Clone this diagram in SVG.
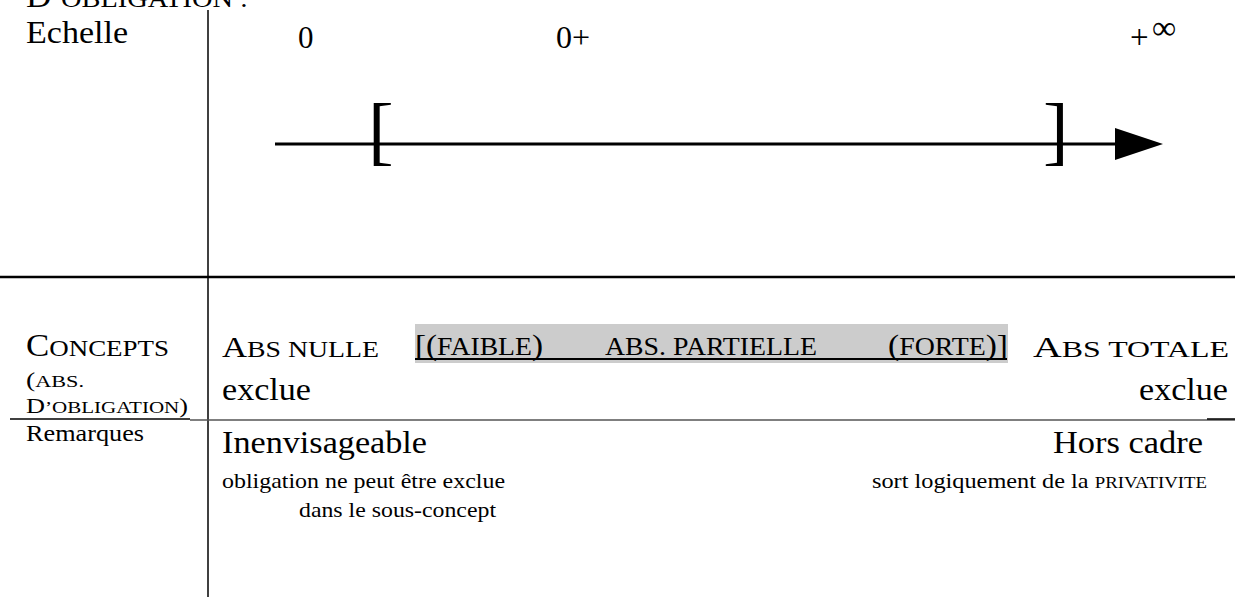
<svg xmlns="http://www.w3.org/2000/svg" width="1235" height="597" viewBox="0 0 1235 597">
<style>
.t{font-family:'Liberation Serif','Times New Roman',serif;fill:#000}
.rule{stroke:#000;stroke-width:1.5;fill:none}
.grule{stroke:#555;stroke-width:1.5;fill:none}
</style>
<defs>
<marker id="ah" markerWidth="48" markerHeight="32" refX="0" refY="16" orient="auto" markerUnits="userSpaceOnUse">
<path d="M0,0 L48,16 L0,32 Z" fill="#000"/>
</marker>
</defs>
<g id="table-lines">
<line class="rule" x1="208" y1="10" x2="208" y2="597"/>
<line x1="0" y1="277" x2="1235" y2="277" stroke="#000" stroke-width="2.5"/>
<line class="rule" x1="10" y1="419" x2="190" y2="419"/>
<line class="grule" x1="190" y1="420" x2="1235" y2="420"/>
<line class="rule" x1="1207" y1="419" x2="1235" y2="419"/>
</g>
<g id="title"><text class="t" x="26" y="7" textLength="222" lengthAdjust="spacingAndGlyphs"><tspan font-size="31">D</tspan><tspan font-size="25">’OBLIGATION :</tspan></text></g>
<g id="echelle"><text class="t" x="26" y="43" textLength="102" lengthAdjust="spacingAndGlyphs"><tspan font-size="32">Echelle</tspan></text></g>
<g id="tick-0"><text class="t" x="298" y="48"><tspan font-size="31">0</tspan></text></g>
<g id="tick-0plus"><text class="t" x="556" y="48"><tspan font-size="32">0+</tspan></text></g>
<g id="tick-inf"><text class="t" x="1130" y="48"><tspan font-size="33">+</tspan></text><text class="t" x="1152" y="39"><tspan font-size="34">∞</tspan></text></g>
<g id="connectors">
<line x1="275" y1="144" x2="1115" y2="144" stroke="#000" stroke-width="3" marker-end="url(#ah)"/>
</g>
<g id="bracket-open"><text class="t" x="368" y="156" font-size="77">[</text></g>
<g id="bracket-close"><text class="t" x="1043" y="156" font-size="77">]</text></g>
<g id="concepts-label">
<text class="t" x="26" y="356" textLength="143" lengthAdjust="spacingAndGlyphs"><tspan font-size="31">C</tspan><tspan font-size="24">ONCEPTS</tspan></text>
<text class="t" x="26" y="387" textLength="58" lengthAdjust="spacingAndGlyphs"><tspan font-size="20">(</tspan><tspan font-size="16">ABS.</tspan></text>
<text class="t" x="26" y="413" textLength="162" lengthAdjust="spacingAndGlyphs"><tspan font-size="20">D</tspan><tspan font-size="16">’OBLIGATION</tspan><tspan font-size="20">)</tspan></text>
</g>
<g id="abs-nulle">
<text class="t" x="222" y="357" textLength="157" lengthAdjust="spacingAndGlyphs"><tspan font-size="30">A</tspan><tspan font-size="24">BS NULLE</tspan></text>
<text class="t" x="222" y="400" textLength="89" lengthAdjust="spacingAndGlyphs"><tspan font-size="32">exclue</tspan></text>
</g>
<g id="abs-partielle">
<rect x="415" y="324" width="593" height="39" fill="#cccccc"/>
<line x1="415" y1="359" x2="1007" y2="359" stroke="#000" stroke-width="2"/>
<text class="t" x="415" y="355" textLength="128" lengthAdjust="spacingAndGlyphs"><tspan font-size="30">[(</tspan><tspan font-size="25">FAIBLE</tspan><tspan font-size="30">)</tspan></text>
<text class="t" x="605" y="355" textLength="212" lengthAdjust="spacingAndGlyphs"><tspan font-size="25">ABS. PARTIELLE</tspan></text>
<text class="t" x="888" y="355" textLength="120" lengthAdjust="spacingAndGlyphs"><tspan font-size="30">(</tspan><tspan font-size="25">FORTE</tspan><tspan font-size="30">)]</tspan></text>
</g>
<g id="abs-totale">
<text class="t" x="1033" y="357" textLength="196" lengthAdjust="spacingAndGlyphs"><tspan font-size="30">A</tspan><tspan font-size="24">BS TOTALE</tspan></text>
<text class="t" x="1139" y="400" textLength="89" lengthAdjust="spacingAndGlyphs"><tspan font-size="32">exclue</tspan></text>
</g>
<g id="remarques-label"><text class="t" x="26" y="441" textLength="118" lengthAdjust="spacingAndGlyphs"><tspan font-size="23">Remarques</tspan></text></g>
<g id="inenvisageable">
<text class="t" x="222" y="453" textLength="205" lengthAdjust="spacingAndGlyphs"><tspan font-size="32">Inenvisageable</tspan></text>
<text class="t" x="222" y="488" textLength="283" lengthAdjust="spacingAndGlyphs"><tspan font-size="22">obligation ne peut être exclue</tspan></text>
<text class="t" x="299" y="517" textLength="197" lengthAdjust="spacingAndGlyphs"><tspan font-size="22">dans le sous-concept</tspan></text>
</g>
<g id="hors-cadre">
<text class="t" x="1053" y="453" textLength="150" lengthAdjust="spacingAndGlyphs"><tspan font-size="32">Hors cadre</tspan></text>
<text class="t" x="872" y="488" textLength="335" lengthAdjust="spacingAndGlyphs"><tspan font-size="22">sort logiquement de la </tspan><tspan font-size="17">PRIVATIVITE</tspan></text>
</g>
</svg>
